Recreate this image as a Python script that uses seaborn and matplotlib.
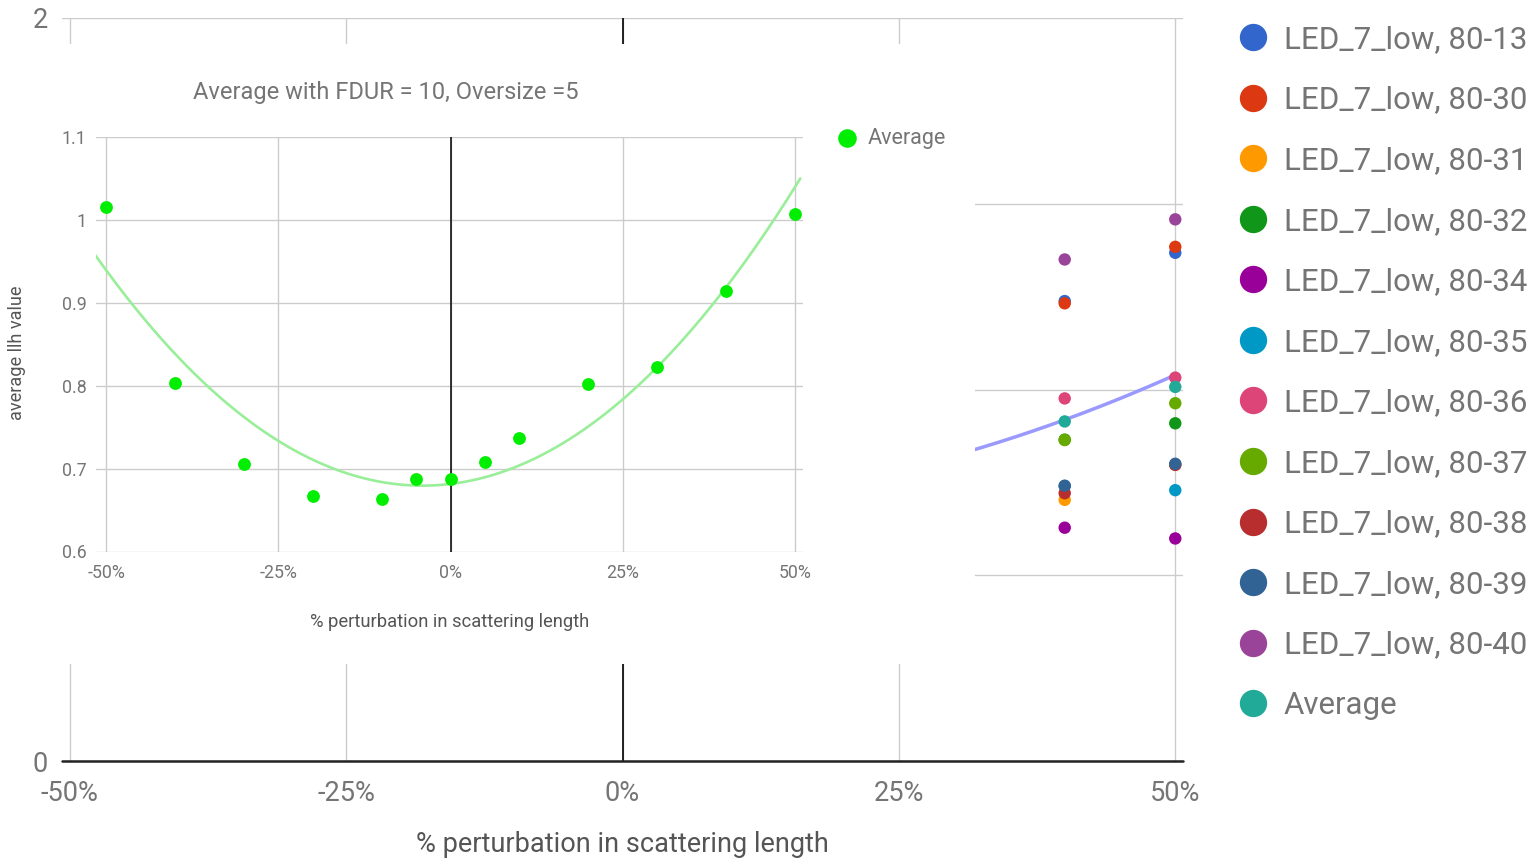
import numpy as np
import pandas as pd
import matplotlib
matplotlib.use("Agg")
import matplotlib.pyplot as plt
import seaborn as sns

sns.set_theme(style="white")
plt.rcParams["font.family"] = ["Roboto", "DejaVu Sans"]

# --- data ---
perturbation = [-50, -40, -30, -20, -10, -5, 0, 5, 10, 20, 30, 40, 50]
average_llh = [1.015, 0.803, 0.706, 0.667, 0.663, 0.687, 0.688, 0.708, 0.737,
               0.802, 0.822, 0.914, 1.007]

series_names = ["LED_7_low, 80-13", "LED_7_low, 80-30", "LED_7_low, 80-31",
                "LED_7_low, 80-32", "LED_7_low, 80-34", "LED_7_low, 80-35",
                "LED_7_low, 80-36", "LED_7_low, 80-37", "LED_7_low, 80-38",
                "LED_7_low, 80-39", "LED_7_low, 80-40"]
# only the +40% / +50% points are visible behind the inset
visible_x = [40, 50]
series_40 = [1.238, 1.232, 0.703, 0.865, 0.628, 0.740, 0.976, 0.864, 0.721, 0.741, 1.350]
series_50 = [1.368, 1.384, 0.798, 0.909, 0.599, 0.729, 1.032, 0.963, 0.797, 0.800, 1.458]

palette = ["#3366cc", "#dc3912", "#ff9900", "#109618", "#990099", "#0099c6",
           "#dd4477", "#66aa00", "#b82e2e", "#316395", "#994499", "#22aa99"]

GRAY_TXT = "#757575"
GRID = "#cccccc"
W, H = 1538, 858


def box(left, top, right, bottom):
    # pixel box -> figure fraction
    return [left / W, (H - bottom) / H, (right - left) / W, (bottom - top) / H]


rows = []
for name, v40, v50 in zip(series_names, series_40, series_50):
    rows.append((name, visible_x[0], v40))
    rows.append((name, visible_x[1], v50))
for x, y in zip(perturbation, average_llh):
    rows.append(("Average", x, y))
df = pd.DataFrame(rows, columns=["series", "perturbation", "llh"])

# quadratic trendline through the averages
coef = np.polyfit(perturbation, average_llh, 2)
xs = np.linspace(-51.6, 50.8, 200)
trend = np.polyval(coef, xs)
xs_bg = np.linspace(-51.6, 49.8, 200)
trend_bg = np.polyval(coef, xs_bg)

fig = plt.figure(figsize=(W / 100, H / 100), dpi=100)

# ---------- background chart ----------
ax = fig.add_axes(box(62, 18, 1183, 761))
sns.lineplot(x=xs_bg, y=trend_bg, ax=ax, color="#9999ff", lw=2.5, zorder=2)
sns.scatterplot(data=df, x="perturbation", y="llh", hue="series",
                hue_order=series_names + ["Average"], palette=palette,
                s=80, linewidth=0, ax=ax, zorder=3)
ax.set_xlim(-50.7, 50.7)
ax.set_ylim(0, 2)
ax.set_xticks([-50, -25, 0, 25, 50])
ax.set_xticklabels(["-50%", "-25%", "0%", "25%", "50%"])
ax.set_yticks([0, 0.5, 1, 1.5, 2])
ax.set_yticklabels(["0", "0.5", "1", "1.5", "2"])
ax.grid(True, color=GRID, lw=1)
ax.axvline(0, color="black", lw=1.2, zorder=1.5)
ax.axhline(0, color="#222222", lw=1.8, zorder=1.5, clip_on=False)
for s in ax.spines.values():
    s.set_visible(False)
ax.tick_params(length=0, labelsize=19.5, labelcolor=GRAY_TXT)
ax.tick_params(axis="x", pad=14)
ax.tick_params(axis="y", pad=10)
ax.set_xlabel("% perturbation in scattering length", fontsize=19.5, color="#555555")
ax.xaxis.set_label_coords(0.5, -0.094)
ax.set_ylabel("")

handles, labels = ax.get_legend_handles_labels()
ax.legend(handles, labels, loc="upper left", bbox_to_anchor=(1237 / W, 1 - 25 / H),
          bbox_transform=fig.transFigure, frameon=False, fontsize=22.5,
          labelcolor=GRAY_TXT, markerscale=2.2, handlelength=1.0,
          handletextpad=0.49, labelspacing=1.01, borderpad=0, borderaxespad=0)

# ---------- white panel with the inset chart ----------
panel = fig.add_axes(box(0, 44, 975, 664))
panel.set_facecolor("white")
panel.set_xticks([])
panel.set_yticks([])
for s in panel.spines.values():
    s.set_visible(False)

ins = fig.add_axes(box(96, 137, 803, 551.5))
sns.lineplot(x=xs, y=trend, ax=ins, color="#99ee99", lw=1.9, zorder=2)
sns.scatterplot(x=perturbation, y=average_llh, ax=ins, color="#00ee00",
                s=85, linewidth=0, zorder=3, label="Average")
ins.set_xlim(-51.5, 51.2)
ins.set_ylim(0.6, 1.1)
ins.set_xticks([-50, -25, 0, 25, 50])
ins.set_xticklabels(["-50%", "-25%", "0%", "25%", "50%"])
ins.set_yticks([0.6, 0.7, 0.8, 0.9, 1.0, 1.1])
ins.set_yticklabels(["0.6", "0.7", "0.8", "0.9", "1", "1.1"])
ins.grid(True, color=GRID, lw=1)
ins.axvline(0, color="black", lw=1.1, zorder=1.5)
for s in ins.spines.values():
    s.set_visible(False)
ins.tick_params(length=0, labelsize=12.8, labelcolor=GRAY_TXT)
ins.tick_params(axis="x", pad=9)
ins.tick_params(axis="y", pad=7)
ins.set_xlabel("% perturbation in scattering length", fontsize=13.2, color="#555555")
ins.xaxis.set_label_coords(0.5, -0.148)
ins.set_ylabel("average llh value", fontsize=13.1, color="#555555")
ins.yaxis.set_label_coords(-0.099, 0.48)
ins.legend(loc="upper left", bbox_to_anchor=(836 / W, 1 - 128 / H),
           bbox_transform=fig.transFigure, frameon=False, fontsize=15.5,
           labelcolor=GRAY_TXT, markerscale=1.45, handlelength=1.0,
           handletextpad=0.45, borderpad=0, borderaxespad=0)
fig.text(386 / W, 1 - 92 / H, "Average with FDUR = 10, Oversize =5",
         ha="center", va="center", fontsize=17, color=GRAY_TXT)

fig.savefig("out.png", dpi=100, facecolor="white")
